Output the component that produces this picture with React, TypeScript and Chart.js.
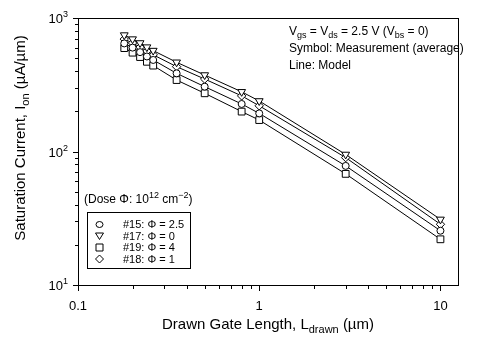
import React, { useEffect, useRef } from 'react';
import { Chart, registerables } from 'chart.js';

Chart.register(...registerables);

// Drawn gate length (µm)
const gateLength = [0.18, 0.2, 0.22, 0.24, 0.26, 0.35, 0.5, 0.8, 1, 3, 10];
// Saturation current Ion (µA/µm) per wafer
const ionPhi25 = [645, 600, 555, 515, 485, 385, 306, 227, 193, 78, 25.5]; // #15
const ionPhi0 = [745, 695, 650, 605, 570, 466, 374, 280, 239, 95, 31]; // #17
const ionPhi4 = [595, 550, 510, 470, 440, 343, 273, 199, 172, 68, 22]; // #19
const ionPhi1 = [695, 650, 605, 565, 530, 432, 349, 261, 220, 90, 28.5]; // #18

const seriesLabels = ['#15: Φ = 2.5', '#17: Φ = 0', '#19: Φ = 4', '#18: Φ = 1'];
const xTickValues = [0.1, 1, 10];
const xTickLabels = ['0.1', '1', '10'];
const yTickValues = [10, 100, 1000];
const yTickExponents = ['1', '2', '3'];

const FONT = '"Liberation Sans", Arial, Helvetica, sans-serif';

type Seg = { t: string; s: number; dy?: number };

function drawRich(ctx: CanvasRenderingContext2D, segs: Seg[], x: number, y: number, align: 'left' | 'center' | 'right') {
  let w = 0;
  for (const g of segs) {
    ctx.font = `${g.s}px ${FONT}`;
    w += ctx.measureText(g.t).width;
  }
  let cx = align === 'left' ? x : align === 'center' ? x - w / 2 : x - w;
  ctx.textAlign = 'left';
  ctx.textBaseline = 'alphabetic';
  for (const g of segs) {
    ctx.font = `${g.s}px ${FONT}`;
    ctx.fillText(g.t, cx, y + (g.dy || 0));
    cx += ctx.measureText(g.t).width;
  }
}

function drawMarker(ctx: CanvasRenderingContext2D, style: string, x: number, y: number) {
  ctx.beginPath();
  if (style === 'circle') {
    ctx.ellipse(x, y, 3.5, 3, 0, 0, Math.PI * 2);
  } else if (style === 'triangleDown') {
    ctx.moveTo(x - 4, y - 3);
    ctx.lineTo(x + 4, y - 3);
    ctx.lineTo(x, y + 3.5);
    ctx.closePath();
  } else if (style === 'rect') {
    ctx.rect(x - 3.5, y - 3.5, 7, 7);
  } else {
    ctx.moveTo(x, y - 4);
    ctx.lineTo(x + 4, y);
    ctx.lineTo(x, y + 4);
    ctx.lineTo(x - 4, y);
    ctx.closePath();
  }
  ctx.fillStyle = '#fff';
  ctx.fill();
  ctx.strokeStyle = '#000';
  ctx.lineWidth = 1;
  ctx.stroke();
}

const series = [
  { label: seriesLabels[0], data: ionPhi25, pointStyle: 'circle', radius: 3.5, rotation: 0, legendStyle: 'circle' },
  { label: seriesLabels[1], data: ionPhi0, pointStyle: 'triangle', radius: 4.5, rotation: 180, legendStyle: 'triangleDown' },
  { label: seriesLabels[2], data: ionPhi4, pointStyle: 'rect', radius: 4.8, rotation: 0, legendStyle: 'rect' },
  { label: seriesLabels[3], data: ionPhi1, pointStyle: 'rectRot', radius: 4.2, rotation: 0, legendStyle: 'diamond' },
];

const decoPlugin = {
  id: 'deco',
  afterDraw(chart: any) {
    const ctx: CanvasRenderingContext2D = chart.ctx;
    const { left, right, top, bottom } = chart.chartArea;
    const xs = chart.scales.x;
    const ys = chart.scales.y;
    ctx.save();
    ctx.strokeStyle = '#000';
    ctx.fillStyle = '#000';
    ctx.lineWidth = 1;
    const L = Math.round(left), R = Math.round(right), T = Math.round(top), B = Math.round(bottom);
    ctx.strokeRect(L + 0.5, T + 0.5, R - L, B - T);

    // y ticks
    ctx.beginPath();
    for (let i = 0; i < yTickValues.length; i++) {
      const d = yTickValues[i];
      const mMax = i === yTickValues.length - 1 ? 1 : 9;
      for (let m = 1; m <= mMax; m++) {
        const py = Math.round(ys.getPixelForValue(d * m)) + 0.5;
        const len = m === 1 ? 5 : 3;
        ctx.moveTo(L - len, py);
        ctx.lineTo(L, py);
      }
    }
    // x ticks
    for (let i = 0; i < xTickValues.length; i++) {
      const d = xTickValues[i];
      const mMax = i === xTickValues.length - 1 ? 1 : 9;
      for (let m = 1; m <= mMax; m++) {
        const px = Math.round(xs.getPixelForValue(d * m)) + 0.5;
        const len = m === 1 ? 5 : 3;
        ctx.moveTo(px, B + 1);
        ctx.lineTo(px, B + 1 + len);
      }
    }
    ctx.stroke();

    // y tick labels
    for (let i = 0; i < yTickValues.length; i++) {
      const py = ys.getPixelForValue(yTickValues[i]);
      drawRich(ctx, [{ t: '10', s: 13 }, { t: yTickExponents[i], s: 9, dy: -6 }], 68, py + 5, 'right');
    }
    // x tick labels
    for (let i = 0; i < xTickValues.length; i++) {
      const px = xs.getPixelForValue(xTickValues[i]);
      drawRich(ctx, [{ t: xTickLabels[i], s: 13 }], px, 310, 'center');
    }

    // x title
    drawRich(ctx, [
      { t: 'Drawn Gate Length, L', s: 15 },
      { t: 'drawn', s: 11, dy: 4 },
      { t: ' (µm)', s: 15 },
    ], 268, 329, 'center');

    // y title
    ctx.save();
    ctx.translate(25, 138);
    ctx.rotate(-Math.PI / 2);
    drawRich(ctx, [
      { t: 'Saturation Current, I', s: 15 },
      { t: 'on', s: 11, dy: 4 },
      { t: ' (µA/µm)', s: 15 },
    ], 0, 0, 'center');
    ctx.restore();

    // annotations
    drawRich(ctx, [
      { t: 'V', s: 12 }, { t: 'gs', s: 9, dy: 3 },
      { t: ' = V', s: 12 }, { t: 'ds', s: 9, dy: 3 },
      { t: ' = 2.5 V (V', s: 12 }, { t: 'bs', s: 9, dy: 3 },
      { t: ' = 0)', s: 12 },
    ], 289, 35, 'left');
    drawRich(ctx, [{ t: 'Symbol: Measurement (average)', s: 12 }], 289, 52, 'left');
    drawRich(ctx, [{ t: 'Line: Model', s: 12 }], 289, 69, 'left');

    // legend title
    drawRich(ctx, [
      { t: '(Dose Φ: 10', s: 12 }, { t: '12', s: 9, dy: -5 },
      { t: ' cm', s: 12 }, { t: '−2', s: 9, dy: -5 },
      { t: ')', s: 12 },
    ], 84, 203, 'left');

    // legend box
    ctx.strokeRect(87.5, 212.5, 103, 56);
    for (let i = 0; i < series.length; i++) {
      const cy = 224 + i * 11.5;
      drawMarker(ctx, series[i].legendStyle, 99.5, cy + 0.5);
      ctx.fillStyle = '#000';
      drawRich(ctx, [{ t: series[i].label, s: 11 }], 123, cy + 4, 'left');
    }
    ctx.restore();
  },
};

export default function App() {
  const ref = useRef<HTMLCanvasElement | null>(null);

  useEffect(() => {
    if (!ref.current) return;
    const pointSets = series.map((s) => ({
      label: s.label,
      data: gateLength.map((x, i) => ({ x, y: s.data[i] })),
      showLine: false,
      pointStyle: s.pointStyle,
      pointRadius: s.radius,
      pointRotation: s.rotation,
      pointBackgroundColor: '#ffffff',
      pointBorderColor: '#000000',
      pointBorderWidth: 1,
    }));
    const lineSets = series.map((s) => ({
      label: s.label + ' model',
      data: gateLength.map((x, i) => ({ x, y: s.data[i] })),
      showLine: true,
      borderColor: '#000000',
      borderWidth: 1,
      pointRadius: 0,
      tension: 0,
    }));
    const chart = new Chart(ref.current, {
      type: 'scatter',
      data: { datasets: [...pointSets, ...lineSets] as any },
      options: {
        animation: false,
        responsive: false,
        devicePixelRatio: 1,
        layout: { padding: { top: 18, right: 34, bottom: 67, left: 0 }, autoPadding: false } as any,
        plugins: { legend: { display: false }, tooltip: { enabled: false } },
        scales: {
          x: {
            type: 'logarithmic',
            min: 0.1,
            max: 12.5,
            grid: { display: false },
            border: { display: false },
            ticks: { display: false },
            afterFit: (s: any) => { s.height = 0; },
          },
          y: {
            type: 'logarithmic',
            min: 10,
            max: 1000,
            grid: { display: false },
            border: { display: false },
            ticks: { display: false },
            afterFit: (s: any) => { s.width = 78; },
          },
        },
      } as any,
      plugins: [decoPlugin],
    });
    return () => chart.destroy();
  }, []);

  return (
    <div style={{ position: 'absolute', left: 0, top: 0, width: 492, height: 352, background: '#fff' }}>
      <canvas ref={ref} width={492} height={352} style={{ width: 492, height: 352 }} />
    </div>
  );
}
